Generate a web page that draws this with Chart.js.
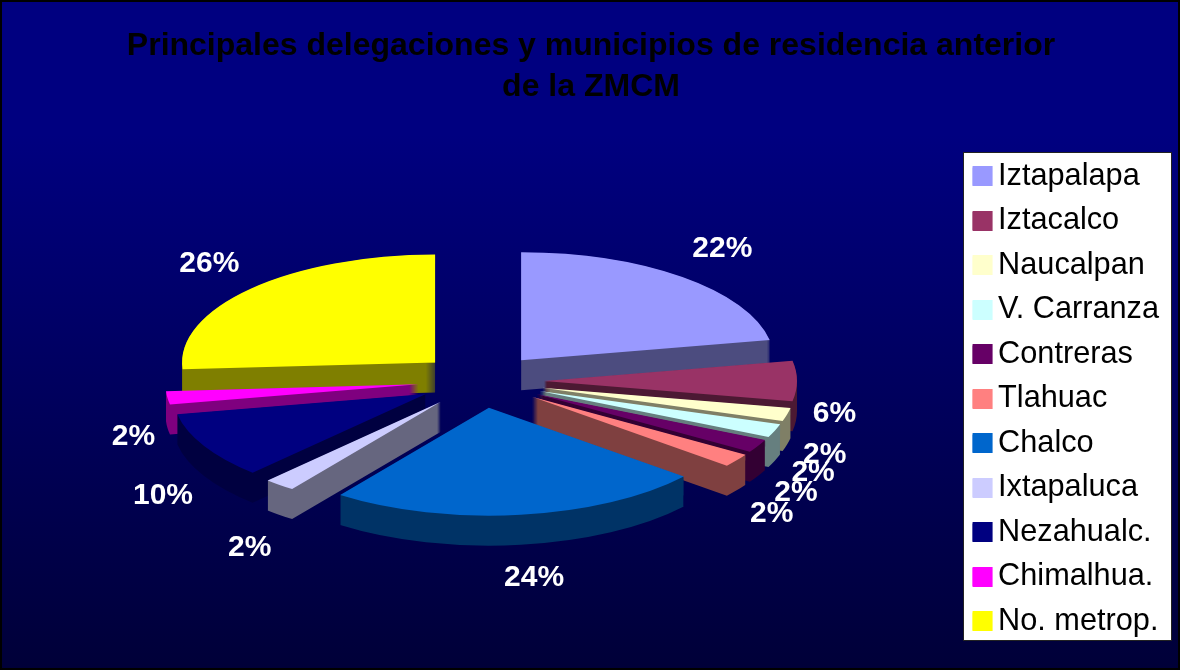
<!DOCTYPE html>
<html>
<head>
<meta charset="utf-8">
<style>html,body{margin:0;padding:0;background:#000060}canvas{display:block}</style>
<script src="https://cdn.jsdelivr.net/npm/chart.js@4"></script>
</head>
<body>
<canvas id="c" width="1180" height="670"></canvas>
<script>
const categories = ['Iztapalapa','Iztacalco','Naucalpan','V. Carranza','Contreras','Tlahuac','Chalco','Ixtapaluca','Nezahualc.','Chimalhua.','No. metrop.'];
const shares = [22,6,2,2,2,2,24,2,10,2,26];
const colors = ['#9999FF','#993366','#FFFFCC','#CCFFFF','#660066','#FF8080','#0066CC','#CCCCFF','#000080','#FF00FF','#FFFF00'];
const titleLines = ['Principales delegaciones y municipios de residencia anterior','de la ZMCM'];
const labelNudge = [[2,-9],[-22,33],[-20,34],[-17,33],[-14,35],[-13,39],[6,38],[8,43],[11,38],[25,36],[2,-8]];

const pie = {cx:481, cy:381, rx:253, ry:108, explode:63, depth:30, reach:1.235};
const frame = {x:963.5, y:152.5, w:208, h:488};

function shade(hex){
  const n = parseInt(hex.slice(1),16);
  return 'rgb('+((n>>16&255)>>1)+','+((n>>8&255)>>1)+','+((n&255)>>1)+')';
}

const pie3d = {
  id:'pie3d',
  beforeDraw(chart){
    const {ctx,width,height} = chart;
    const g = ctx.createLinearGradient(0,0,0,height);
    g.addColorStop(0,'#000080'); g.addColorStop(0.2,'#000080'); g.addColorStop(1,'#000038');
    ctx.save();
    ctx.fillStyle = g; ctx.fillRect(0,0,width,height);
    ctx.strokeStyle = '#000'; ctx.lineWidth = 4; ctx.strokeRect(0,0,width,height);
    ctx.fillStyle = '#fff'; ctx.strokeStyle = '#222'; ctx.lineWidth = 1;
    ctx.fillRect(frame.x,frame.y,frame.w,frame.h); ctx.strokeRect(frame.x,frame.y,frame.w,frame.h);
    ctx.restore();
  },
  beforeDatasetsDraw(chart){
    const {ctx} = chart;
    const arcs = chart.getDatasetMeta(0).data;
    const mid = a => (a.startAngle+a.endAngle)/2;
    const order = arcs.map((a,i)=>i).sort((p,q)=>Math.sin(mid(arcs[p]))-Math.sin(mid(arcs[q])));
    const paint = (i,dy,fill) => {
      const a = arcs[i], m = mid(a), R = a.outerRadius;
      const saved = a.options;
      a.options = {backgroundColor:fill,borderColor:fill,borderWidth:0,borderAlign:'center',offset:0,spacing:0,circular:true,borderJoinStyle:'round',borderRadius:0};
      ctx.save();
      ctx.translate(pie.cx, pie.cy+dy);
      ctx.scale(pie.rx/R, pie.ry/R);
      ctx.translate(Math.cos(m)*pie.explode*R/pie.rx, Math.sin(m)*pie.explode*R/pie.rx);
      ctx.translate(-a.x,-a.y);
      a.draw(ctx);
      ctx.restore();
      a.options = saved;
    };
    order.forEach(i=>{
      // the side wall: every depth layer goes into one path, filled once
      ctx.beginPath();
      ctx.beginPath = () => {};
      ctx.fill = () => {};
      for(let d=pie.depth;d>0;d-=0.5) paint(i,d,shade(colors[i]));
      delete ctx.beginPath;
      delete ctx.fill;
      ctx.fillStyle = shade(colors[i]);
      ctx.fill();
      paint(i,0,colors[i]);
    });
    ctx.save();
    ctx.font = 'bold 30px "Liberation Sans"';
    ctx.fillStyle = '#fff'; ctx.textAlign='center'; ctx.textBaseline='middle';
    arcs.forEach((a,i)=>{
      const m = mid(a);
      const x = pie.cx + Math.cos(m)*(pie.explode+pie.reach*pie.rx) + labelNudge[i][0];
      const y = pie.cy + Math.sin(m)*(pie.explode+pie.reach*pie.rx)*pie.ry/pie.rx + labelNudge[i][1];
      ctx.fillText(shares[i]+'%',x,y);
    });
    ctx.restore();
    return false;
  },
  afterDraw(chart){
    const {ctx,legend} = chart;
    ctx.save();
    legend.legendHitBoxes.forEach((h,i)=>{
      ctx.fillStyle = colors[i];
      ctx.fillRect(h.left, Math.round(h.top+h.height/2-10), 20, 20);
    });
    ctx.restore();
  }
};

new Chart(document.getElementById('c'),{
  type:'pie',
  plugins:[pie3d],
  data:{labels:categories,datasets:[{data:shares,backgroundColor:colors,borderWidth:0}]},
  options:{
    responsive:false,animation:false,
    layout:{padding:{right:11,top:0,bottom:0,left:13}},
    plugins:{
      tooltip:{enabled:false},
      title:{display:true,text:titleLines,color:'#000',font:{family:'"Liberation Sans"',size:32,weight:'bold',lineHeight:1.28},padding:{top:26,bottom:20}},
      legend:{position:'right',align:'center',fullSize:false,labels:{color:'#000',font:{family:'"Liberation Sans"',size:30.7},boxWidth:10.15,boxHeight:18,padding:13.8}}
    }
  }
});
</script>
</body>
</html>
